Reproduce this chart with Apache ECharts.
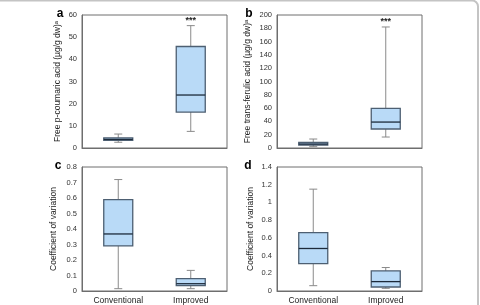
<!DOCTYPE html>
<html>
<head>
<meta charset="utf-8">
<script src="https://cdn.jsdelivr.net/npm/echarts@6/dist/echarts.min.js"></script>
<style>
    html, body { margin: 0; padding: 0; background: #fff; }
    #chart { width: 480px; height: 305px; }
</style>
</head>
<body>
<div id="chart"></div>
<script>
// data: [min, q1, median, q3, max]
var categories = ['Conventional', 'Improved'];
var coumaricBox = [[2.6, 3.5, 3.9, 4.6, 6.3], [7.5, 16.2, 23.9, 45.8, 55.2]];
var ferulicBox = [[2, 4.5, 6, 8.4, 13.5], [16.5, 28.6, 39, 59.5, 182]];
var cvSetC = [[0.015, 0.291, 0.368, 0.589, 0.719], [0.015, 0.035, 0.047, 0.08, 0.133]];
var cvSetD = [[0.06, 0.31, 0.48, 0.66, 1.15], [0.03, 0.045, 0.106, 0.227, 0.265]];
var stars = ['', '***'];

var panelLetters = ['a', 'b', 'c', 'd'];
var yNames = [
    'Free p-coumaric acid (µg/g dw)ᵃ',
    'Free trans-ferulic acid (µg/g dw)ᵃ',
    'Coefficient of variation',
    'Coefficient of variation'
];
var yMax = [60, 200, 0.8, 1.4];
var yStep = [10, 20, 0.1, 0.2];
var nameGaps = [20, 25, 24, 22];

var chart;

function ChartLoad() {
    var dom = document.getElementById('chart');
    chart = echarts.init(dom);

    var sets = [coumaricBox, ferulicBox, cvSetC, cvSetD];
    var grids = [
        { left: 82, top: 15, width: 145, height: 133 },
        { left: 277, top: 15, width: 145, height: 133 },
        { left: 82, top: 167, width: 145, height: 124 },
        { left: 277, top: 167, width: 145, height: 124 }
    ];

    var xAxes = [], yAxes = [], series = [];

    grids.forEach(function (g) {
        g.show = true;
        g.borderColor = '#6e6e6e';
        g.borderWidth = 1;
        g.backgroundColor = 'transparent';
    });

    sets.forEach(function (set, i) {
        xAxes.push({
            type: 'category',
            gridIndex: i,
            data: categories,
            axisLine: { show: true, lineStyle: { color: '#6e6e6e' } },
            axisTick: { show: false },
            axisLabel: {
                show: i >= 2,
                color: '#222',
                fontFamily: 'Liberation Sans',
                fontSize: 8.5,
                margin: 5
            }
        });
        yAxes.push({
            type: 'value',
            gridIndex: i,
            min: 0,
            max: yMax[i],
            interval: yStep[i],
            name: yNames[i],
            nameLocation: 'middle',
            nameGap: nameGaps[i],
            nameTextStyle: { color: '#222', fontFamily: 'Liberation Sans', fontSize: 8.5 },
            splitLine: { show: false },
            axisLine: { show: true, lineStyle: { color: '#6e6e6e' } },
            axisTick: { show: false },
            axisLabel: {
                color: '#333',
                fontFamily: 'Liberation Sans',
                fontSize: 7.5,
                margin: 5
            }
        });

        var rows = set.map(function (d, k) {
            return [k].concat(d).concat([stars[k] && i < 2 ? 1 : 0]);
        });

        series.push({
            type: 'custom',
            xAxisIndex: i,
            yAxisIndex: i,
            data: rows,
            encode: { x: 0, y: [1, 2, 3, 4, 5] },
            renderItem: renderBox
        });
    });

    function renderBox(params, api) {
        var cat = api.value(0);
        var pMin = api.coord([cat, api.value(1)]);
        var pQ1 = api.coord([cat, api.value(2)]);
        var pMed = api.coord([cat, api.value(3)]);
        var pQ3 = api.coord([cat, api.value(4)]);
        var pMax = api.coord([cat, api.value(5)]);
        var band = api.size([1, 0])[0];
        var half = band * 0.2;
        var cap = 4;
        var cx = pMed[0];
        var whisker = { stroke: '#8a8a8a', lineWidth: 1 };

        var children = [
            { type: 'line', shape: { x1: cx, y1: pMin[1], x2: cx, y2: pMax[1] }, style: whisker },
            { type: 'line', shape: { x1: cx - cap, y1: pMin[1], x2: cx + cap, y2: pMin[1] }, style: whisker },
            { type: 'line', shape: { x1: cx - cap, y1: pMax[1], x2: cx + cap, y2: pMax[1] }, style: whisker },
            {
                type: 'rect',
                shape: { x: cx - half, y: pQ3[1], width: half * 2, height: pQ1[1] - pQ3[1] },
                style: { fill: '#b9daf7', stroke: '#4d5f72', lineWidth: 1.3 }
            },
            {
                type: 'line',
                shape: { x1: cx - half, y1: pMed[1], x2: cx + half, y2: pMed[1] },
                style: { stroke: '#1c2a3a', lineWidth: 1.3 }
            }
        ];

        if (api.value(6)) {
            children.push({
                type: 'text',
                x: cx,
                y: pMax[1] - 1,
                style: {
                    text: '***',
                    align: 'center',
                    verticalAlign: 'bottom',
                    fill: '#222',
                    font: 'bold 9px Liberation Sans'
                }
            });
        }

        return { type: 'group', children: children };
    }

    var letterPos = [[60, 14], [249, 14], [58, 166], [248, 166]];
    var graphics = letterPos.map(function (p, k) {
        return {
            type: 'text',
            x: p[0],
            y: p[1],
            style: {
                text: panelLetters[k],
                align: 'center',
                verticalAlign: 'middle',
                fill: '#000',
                font: 'bold 12px Liberation Sans'
            }
        };
    });

    // light frame around the whole figure
    graphics.push({
        type: 'rect',
        shape: { x: -10, y: 0.5, width: 488, height: 320, r: 6 },
        style: { fill: 'none', stroke: '#c4c4c4', lineWidth: 2 }
    });

    var option = {
        animation: false,
        grid: grids,
        xAxis: xAxes,
        yAxis: yAxes,
        series: series,
        graphic: graphics
    };

    chart.setOption(option, true);
}

ChartLoad();
</script>
</body>
</html>
